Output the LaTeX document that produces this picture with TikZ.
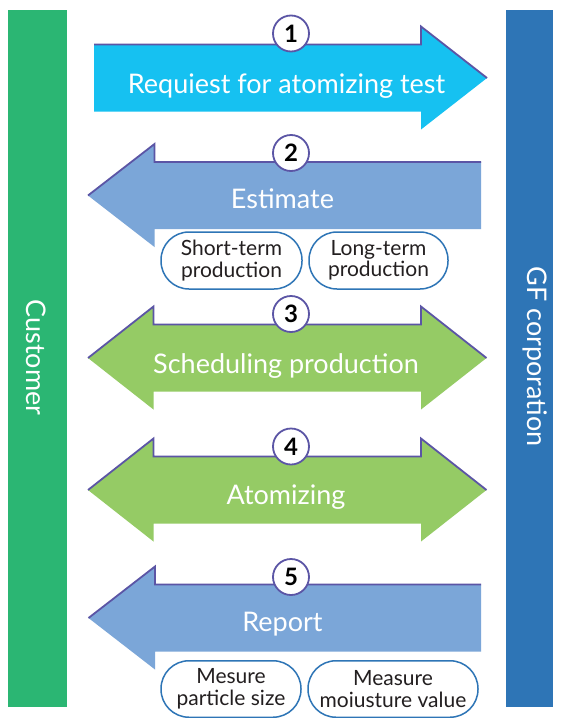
\documentclass[tikz,border=0pt]{standalone}
\usepackage{fontspec}
\setmainfont{Lato}
\usepackage{tikz}
\usetikzlibrary{calc,shapes,positioning}
\usetikzlibrary{arrows.meta}
\definecolor{custgreen}{RGB}{43,182,115}
\definecolor{gfblue}{RGB}{46,117,182}
\definecolor{reqcyan}{RGB}{22,193,241}
\definecolor{estblue}{RGB}{123,166,216}
\definecolor{schgreen}{RGB}{149,203,101}
\definecolor{outline}{RGB}{91,85,165}
\definecolor{pillblue}{RGB}{46,117,182}
\definecolor{textgray}{RGB}{35,31,32}

\begin{document}
\begin{tikzpicture}[x=1pt,y=-1pt]
      \tikzstyle{edge} = [draw=outline, line width=1.8pt, line join=miter]
      \tikzstyle{bigtext} = [text=white, font=\fontsize{27}{30}\selectfont, anchor=base, inner sep=0pt]
      \tikzstyle{num} = [circle, draw=outline, line width=1.8pt, fill=white, minimum size=36pt, inner sep=0pt, font=\fontsize{24}{26}\selectfont\bfseries]
      \tikzstyle{pill} = [draw=pillblue, line width=1.5pt, fill=white, rounded corners=28pt, align=center, inner sep=0pt, text=textgray, font=\fontsize{21}{21.5}\selectfont]
      \fill[white] (0,0) rectangle (561,718);
      \useasboundingbox (0,0) rectangle (561,718);

      % side bars
      \fill[custgreen] (8,10) rectangle (66.7,707);
      \fill[gfblue] (506,10) rectangle (553,707);
      \node[bigtext, rotate=-90] (cust) at (27,357.5) {Customer};
      \node[bigtext, rotate=-90] (gf) at (527,356.5) {GF corporation};

      % 1 request
      \fill[reqcyan] (94,44.5) -- (421,44.5) -- (421,26.5) -- (487,78) -- (421,129.5) -- (421,111.5) -- (94,111.5) -- cycle;
      \draw[edge] (94,44.5) -- (421,44.5) -- (421,26.5) -- (487,78);
      \node[bigtext] (req) at (286.5,93) {Requiest for atomizing test};
      \node[num] (n1) at (291,33.5) {1};

      % 2 estimate
      \fill[estblue] (481,162) -- (154.5,162) -- (154.5,144) -- (88,195.5) -- (154.5,247) -- (154.5,229) -- (481,229) -- cycle;
      \draw[edge] (481,162) -- (154.5,162) -- (154.5,144) -- (88,195.5);
      \node[bigtext] (est) at (282.5,208) {Estimate};
      \node[num] (n2) at (291,153) {2};
      \node[pill, minimum width=141pt, minimum height=57pt] (short) at (231.5,260.5) {Short-term\\production};
      \node[pill, minimum width=139pt, minimum height=57pt] (long) at (378.5,260.5) {Long-term\\production};

      % 3 scheduling
      \fill[schgreen] (88,358) -- (153.5,306.5) -- (153.5,324.5) -- (421,324.5) -- (421,306.5) -- (486.5,358) -- (421,409.5) -- (421,391.5) -- (153.5,391.5) -- (153.5,409.5) -- cycle;
      \draw[edge] (88,358) -- (153.5,306.5) -- (153.5,324.5) -- (421,324.5) -- (421,306.5) -- (486.5,358);
      \node[bigtext] (sch) at (286,373) {Scheduling production};
      \node[num] (n3) at (291,314) {3};

      % 4 atomizing
      \fill[schgreen] (88,490) -- (153.5,438.5) -- (153.5,456.5) -- (421,456.5) -- (421,438.5) -- (486.5,490) -- (421,541.5) -- (421,523.5) -- (153.5,523.5) -- (153.5,541.5) -- cycle;
      \draw[edge] (88,490) -- (153.5,438.5) -- (153.5,456.5) -- (421,456.5) -- (421,438.5) -- (486.5,490);
      \node[bigtext] (atom) at (286,504.5) {Atomizing};
      \node[num] (n4) at (291,446.5) {4};

      % 5 report
      \fill[estblue] (481,584.5) -- (155,584.5) -- (155,566.5) -- (88.5,618) -- (155,669.5) -- (155,651.5) -- (481,651.5) -- cycle;
      \draw[edge] (481,584.5) -- (155,584.5) -- (155,566.5) -- (88.5,618);
      \node[bigtext] (rep) at (282.5,631.5) {Report};
      \node[num] (n5) at (291,577) {5};
      \node[pill, minimum width=140pt, minimum height=56.5pt] (psize) at (231,689) {Mesure\\particle size};
      \node[pill, minimum width=170pt, minimum height=56.5pt] (moist) at (393,689) {Measure\\moiusture value};

    \end{tikzpicture}
\end{document}
